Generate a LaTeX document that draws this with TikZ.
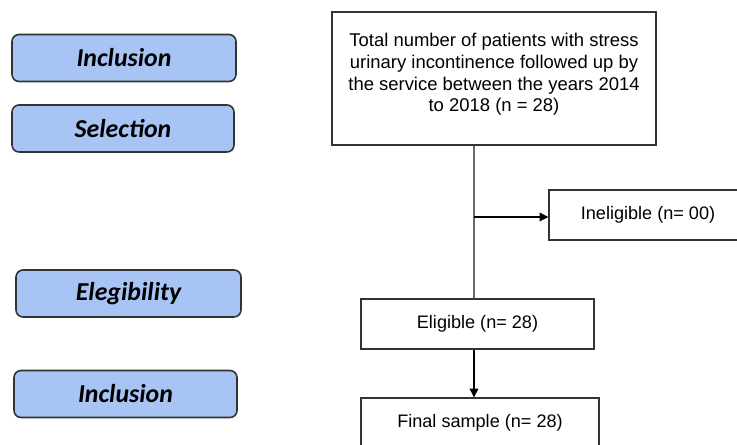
\documentclass[tikz,border=0pt]{standalone}
\usepackage{fontspec}
\setmainfont{Liberation Sans}
\newfontfamily\labelfont{Carlito}
\usetikzlibrary{arrows.meta}
\definecolor{phasefill}{HTML}{A7C4F5}
\definecolor{phaseedge}{HTML}{333333}
\definecolor{boxedge}{HTML}{333333}
\definecolor{spinegray}{HTML}{6A6A6A}
\begin{document}
\begin{tikzpicture}[x=0.02cm,y=-0.02cm,
  phase/.style={draw=phaseedge,line width=0.9pt,fill=phasefill,rounded corners=4pt,
    minimum width=#1*0.02cm,minimum height=47*0.02cm,inner sep=0pt,
    font=\labelfont\bfseries\itshape\fontsize{14.7}{17}\selectfont},
  flowbox/.style={draw=boxedge,line width=0.75pt,fill=white,inner sep=0pt,
    minimum height=50*0.02cm,font=\fontsize{10.3}{12.5}\selectfont},
  txt/.style={inner sep=0pt,align=center,font=\fontsize{10.5}{12.4}\selectfont},
  arr/.style={draw=black,line width=0.6pt,-{Triangle[length=5pt,width=5pt]}}
]
\useasboundingbox (0,0) rectangle (737,445);
\clip (0,0) rectangle (737,445);
% left phase labels
\node[phase=224] (inc1) at (124,58) {Inclusion};
\node[phase=222] (sel) at (123,128.5) {Selection};
\node[phase=225] (eleg) at (128.5,293.5) {Elegibility};
\node[phase=223] (inc2) at (125.5,394) {Inclusion};
% flow boxes
\node[flowbox,minimum width=324*0.02cm,minimum height=133*0.02cm] (total) at (494,78.5) {};
\node[txt] (totaltxt) at (494,74.5) {Total number of patients with stress\\urinary incontinence followed up by\\the service between the years 2014\\to 2018 (n = 28)};
\node[flowbox,minimum width=198*0.02cm] (inel) at (648,215) {Ineligible (n= 00)};
\node[flowbox,minimum width=233*0.02cm] (elig) at (477.5,324) {Eligible (n= 28)};
\node[flowbox,minimum width=238*0.02cm] (final) at (480,423) {Final sample (n= 28)};
% connectors
\coordinate (spine) at (474,0);
\draw[spinegray,line width=1pt] (total.south -| spine) -- (elig.north -| spine);
\draw[arr] (spine |- 0,217) coordinate (branch) -- (inel.west |- branch);
\draw[arr] (elig.south -| spine) -- (final.north -| spine);
\end{tikzpicture}
\end{document}
